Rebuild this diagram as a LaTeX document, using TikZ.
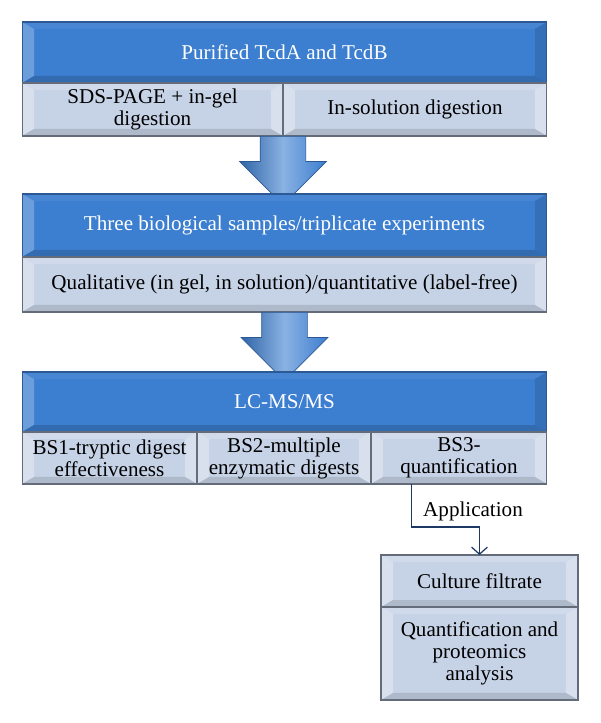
\documentclass[tikz,border=0pt]{standalone}
\usepackage{fontspec}
\setmainfont{Liberation Serif}
\usetikzlibrary{shapes.arrows, calc, arrows.meta}
\definecolor{boxblue}{RGB}{60,126,208}
\definecolor{blueline}{RGB}{44,88,148}
\definecolor{boxgrey}{RGB}{198,210,230}
\definecolor{greyline}{RGB}{100,108,122}
\definecolor{linkblue}{RGB}{30,56,100}
\tikzset{
  bevel/.style n args={4}{path picture={
    \path (path picture bounding box.north west) coordinate (pnw)
          (path picture bounding box.south east) coordinate (pse);
    \fill[#1] (pnw) -- (pnw -| pse) -- ($(pnw -| pse)+(-0.24cm,-0.14cm)$) -- ($(pnw)+(0.24cm,-0.14cm)$) -- cycle;
    \fill[#2] (pnw) -- (pnw |- pse) -- ($(pnw |- pse)+(0.24cm,0.14cm)$) -- ($(pnw)+(0.24cm,-0.14cm)$) -- cycle;
    \fill[#3] (pse) -- (pnw -| pse) -- ($(pnw -| pse)+(-0.24cm,-0.14cm)$) -- ($(pse)+(-0.24cm,0.14cm)$) -- cycle;
    \fill[#4] (pse) -- (pnw |- pse) -- ($(pnw |- pse)+(0.24cm,0.14cm)$) -- ($(pse)+(-0.24cm,0.14cm)$) -- cycle;
  }}
}
\tikzstyle{head} = [rectangle, draw=blueline, fill=boxblue, text=white, line width=0.6pt, inner sep=0pt, outer sep=0pt, align=center, font=\fontsize{12}{12.5}\selectfont, minimum width=10.5cm, bevel={boxblue!94!white}{boxblue!75!white}{boxblue!88!black}{boxblue!85!black}]
\tikzstyle{sub} = [rectangle, draw=greyline, fill=boxgrey, text=black, line width=0.6pt, inner sep=0pt, outer sep=0pt, align=center, font=\fontsize{12}{12.5}\selectfont, bevel={boxgrey!82!white}{boxgrey!68!white}{boxgrey!68!white}{boxgrey!88!black}]
\tikzstyle{bigarrow} = [single arrow, shape border rotate=270, draw=blueline, line width=0.4pt, left color=boxblue!80!black, right color=boxblue, middle color=boxblue!60!white, inner sep=0.45cm, minimum height=1.16cm, single arrow head extend=0.41cm]
\tikzstyle{arrow} = [draw=linkblue, line width=0.7pt, -{Straight Barb[length=4pt, width=9pt]}]

\begin{document}
\begin{tikzpicture}[x=0.02cm, y=-0.02cm]
\useasboundingbox (0,0) rectangle (600,723);

% first step
\node (tcd) [head, minimum height=1.22cm] at (284.5,52.5) {Purified TcdA and TcdB};
\node (sds) [sub, anchor=north west, minimum width=5.22cm, minimum height=1.06cm] at (tcd.south west) {SDS-PAGE + in-gel\\digestion};
\node (insol) [sub, anchor=north east, minimum width=5.28cm, minimum height=1.06cm] at (tcd.south east) {In-solution digestion};
\node (arr1) [bigarrow, anchor=tail] at (sds.south east) {};

% second step
\node (three) [head, minimum height=1.26cm] at (284.5,225.5) {Three biological samples/triplicate experiments};
\node (qual) [sub, anchor=north, minimum width=10.5cm, minimum height=1.1cm] at (three.south) {Qualitative (in gel, in solution)/quantitative (label-free)};
\node (arr2) [bigarrow, anchor=tail] at (qual.south) {};

% third step
\node (lcms) [head, minimum height=1.2cm] at (284.5,402) {LC-MS/MS};
\node (bs1) [sub, anchor=north west, minimum width=3.5cm, minimum height=1.04cm] at (lcms.south west) {BS1-tryptic digest\\effectiveness};
\node (bs2) [sub, anchor=north west, minimum width=3.48cm, minimum height=1.04cm] at (bs1.north east) {BS2-multiple\\enzymatic digests};
\node (bs3) [sub, anchor=north west, minimum width=3.52cm, minimum height=1.04cm] at (bs2.north east) {BS3-\\quantification};

% application
\node (culture) [sub, minimum width=3.94cm, minimum height=1.04cm] at (479.5,581) {Culture filtrate};
\node (quant) [sub, anchor=north, minimum width=3.94cm, minimum height=1.86cm] at (culture.south) {Quantification and\\proteomics\\analysis};
\node (app) [font=\fontsize{12}{12.5}\selectfont] at (473,511) {Application};

\draw [arrow] ($(bs3.south west)!0.23!(bs3.south east)$) -- ++(0,43) -| (culture.north);

\end{tikzpicture}
\end{document}
